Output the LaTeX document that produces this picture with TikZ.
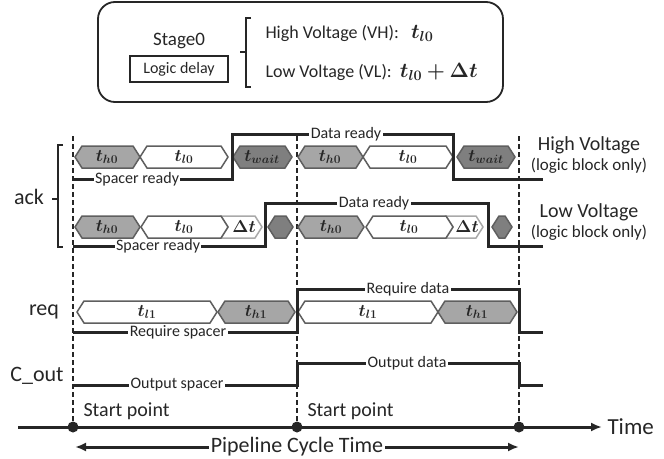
\documentclass[tikz,border=0pt]{standalone}
\usepackage{fontspec}
\usepackage{amsmath}
\usepackage{bm}
\setmainfont{Carlito}
\usetikzlibrary{arrows.meta}

\definecolor{sigline}{HTML}{262626}
\definecolor{segedge}{HTML}{5F5F5F}
\definecolor{segmid}{HTML}{A6A6A6}
\definecolor{segdark}{HTML}{7F7F7F}
\definecolor{segpale}{HTML}{A9A9A9}

\tikzset{
    signal/.style={line width=3pt, draw=sigline},
    seg/.style={line width=1.5pt, draw=segedge, fill=white},
    guide/.style={line width=1.3pt, draw=sigline, dash pattern=on 5pt off 3pt},
    onlabel/.style={fill=white, inner xsep=1.5pt, inner ysep=0pt, text=sigline, font=\fontsize{16}{18}\selectfont},
    rowlabel/.style={text=sigline, font=\fontsize{22}{26}\selectfont},
    seglabel/.style={text=sigline, font=\fontsize{18}{20}\selectfont}
}

% hexagon segment: x0, x1, y, style
\newcommand{\hexseg}[4]{%
    \draw[seg, #4] (#1,#3) -- (#1+7,#3-11) -- (#2-7,#3-11) -- (#2,#3) -- (#2-7,#3+11) -- (#1+7,#3+11) -- cycle;
}

\begin{document}
\begin{tikzpicture}[x=1pt, y=1pt, yscale=-1]
    \useasboundingbox (0,0) rectangle (664,458);

    % Define the positions of the cycle marks
    \coordinate (start1) at (73, 427);
    \coordinate (start2) at (297, 427);
    \coordinate (end2) at (519, 427);

    % Legend box
    \draw[line width=1.8pt, draw=sigline, rounded corners=17pt] (98,2) rectangle (503,102);
    \node[text=sigline, font=\fontsize{19}{22}\selectfont] (stage) at (179, 41) {Stage0};
    \draw[line width=1.5pt, draw=sigline] (130,56) rectangle (228,82);
    \node[text=sigline, font=\fontsize{16}{18}\selectfont] (logic) at (179, 69) {Logic delay};
    \draw[line width=1.5pt, draw=sigline] (251,18) -- (246,18) -- (246,87) -- (251,87);
    \draw[line width=1.5pt, draw=sigline] (246,52) -- (240,52);
    \node[anchor=west, text=sigline, font=\fontsize{18}{21}\selectfont] (vh) at (262, 33) {High Voltage (VH):\ \ \ {\fontsize{20}{22}\selectfont$\bm{t_{l0}}$}};
    \node[anchor=west, text=sigline, font=\fontsize{18}{21}\selectfont] (vl) at (262, 72) {Low Voltage (VL):\ \ {\fontsize{20}{22}\selectfont$\bm{t_{l0}+\Delta t}$}};

    % Dashed guides
    \draw[guide] (73,136) -- (start1);
    \draw[guide] (297,136) -- (start2);
    \draw[guide] (519,136) -- (end2);

    % ack, high voltage
    \hexseg{75}{140}{157}{fill=segmid}
    \hexseg{140}{228}{157}{}
    \hexseg{233}{292}{157}{fill=segdark}
    \hexseg{298}{363}{157}{fill=segmid}
    \hexseg{363}{453}{157}{}
    \hexseg{457}{515}{157}{fill=segdark}
    \node[seglabel] (th0a) at (107,157) {$\bm{t_{h0}}$};
    \node[seglabel] (tl0a) at (184,157) {$\bm{t_{l0}}$};
    \node[seglabel] (twaita) at (262,157) {$\bm{t_{wait}}$};
    \node[seglabel] (th0b) at (330,157) {$\bm{t_{h0}}$};
    \node[seglabel] (tl0b) at (408,157) {$\bm{t_{l0}}$};
    \node[seglabel] (twaitb) at (486,157) {$\bm{t_{wait}}$};
    \draw[signal] (73,179) -- (232,179) -- (232,134) -- (453,134) -- (453,179) -- (543,179);
    \node[onlabel] (spacerA) at (137,179) {Spacer ready};
    \node[onlabel] (dataA) at (346,134) {Data ready};

    % ack, low voltage
    \hexseg{75}{140}{227}{fill=segmid}
    \draw[seg, draw=segpale] (221,216) -- (255,216) -- (262,227) -- (255,238) -- (221,238) -- (228,227) -- cycle;
    \hexseg{141}{228}{227}{}
    \hexseg{268}{293}{227}{fill=segdark}
    \hexseg{298}{364}{227}{fill=segmid}
    \draw[seg, draw=segpale] (446,216) -- (476,216) -- (483,227) -- (476,238) -- (446,238) -- (453,227) -- cycle;
    \hexseg{366}{453}{227}{}
    \hexseg{492}{512}{227}{fill=segdark}
    \node[seglabel] (th0c) at (107,227) {$\bm{t_{h0}}$};
    \node[seglabel] (tl0c) at (184,227) {$\bm{t_{l0}}$};
    \node[seglabel] (dtc) at (244,227) {$\bm{\Delta t}$};
    \node[seglabel] (th0d) at (331,227) {$\bm{t_{h0}}$};
    \node[seglabel] (tl0d) at (409,227) {$\bm{t_{l0}}$};
    \node[seglabel] (dtd) at (467,227) {$\bm{\Delta t}$};
    \draw[signal] (73,246) -- (265,246) -- (265,203) -- (488,203) -- (488,246) -- (543,246);
    \node[onlabel] (spacerB) at (158,246) {Spacer ready};
    \node[onlabel] (dataB) at (374,203) {Data ready};

    % ack brace and side labels
    \draw[line width=1.5pt, draw=sigline] (63,145) -- (58,145) -- (58,247) -- (63,247);
    \draw[line width=1.5pt, draw=sigline] (58,199) -- (52,199);
    \node[rowlabel] (ack) at (29,197) {ack};
    \node[text=sigline, font=\fontsize{20}{22}\selectfont] (hvTitle) at (589,145) {High Voltage};
    \node[text=sigline, font=\fontsize{17}{19}\selectfont] (hvNote) at (589,166) {(logic block only)};
    \node[text=sigline, font=\fontsize{20}{22}\selectfont] (lvTitle) at (589,212) {Low Voltage};
    \node[text=sigline, font=\fontsize{17}{19}\selectfont] (lvNote) at (589,233) {(logic block only)};

    % req
    \hexseg{77}{217}{312}{}
    \hexseg{218}{295}{312}{fill=segmid}
    \hexseg{298}{438}{312}{}
    \hexseg{438}{517}{312}{fill=segmid}
    \node[seglabel] (tl1a) at (147,312) {$\bm{t_{l1}}$};
    \node[seglabel] (th1a) at (256,312) {$\bm{t_{h1}}$};
    \node[seglabel] (tl1b) at (368,312) {$\bm{t_{l1}}$};
    \node[seglabel] (th1b) at (477,312) {$\bm{t_{h1}}$};
    \draw[signal] (73,332) -- (297,332) -- (297,289) -- (519,289) -- (519,332) -- (543,332);
    \node[onlabel] (reqSpacer) at (178,332) {Require spacer};
    \node[onlabel] (reqData) at (408,289) {Require data};
    \node[rowlabel] (req) at (44,312) {req};

    % C_out
    \draw[signal] (73,385) -- (297,385) -- (297,363) -- (519,363) -- (519,385) -- (543,385);
    \node[onlabel] (outSpacer) at (177,385) {Output spacer};
    \node[onlabel] (outData) at (407,363) {Output data};
    \node[rowlabel] (cout) at (37,376) {C\_out};

    % Time axis
    \coordinate (axisL) at (18,427);
    \coordinate (axisR) at (602,427);
    \draw[signal, -{Latex[length=11pt, width=9pt]}] (axisL) -- (axisR);
    \foreach \p in {start1, start2, end2}
        \fill[sigline] (\p) circle (5.5pt);
    \node[text=sigline, font=\fontsize{23}{26}\selectfont, anchor=west] (time) at (604,427) {Time};
    \node[text=sigline, font=\fontsize{20}{22}\selectfont, anchor=west] (sp1) at (80,411) {Start point};
    \node[text=sigline, font=\fontsize{20}{22}\selectfont, anchor=west] (sp2) at (304,411) {Start point};

    % Pipeline cycle time
    \coordinate (cycL) at (75,447);
    \coordinate (cycR) at (519,447);
    \draw[signal, {Latex[length=11pt, width=9pt]}-{Latex[length=11pt, width=9pt]}] (cycL) -- (cycR);
    \node[onlabel, font=\fontsize{22}{24}\selectfont] (cycle) at (297,447) {Pipeline Cycle Time};
\end{tikzpicture}
\end{document}
